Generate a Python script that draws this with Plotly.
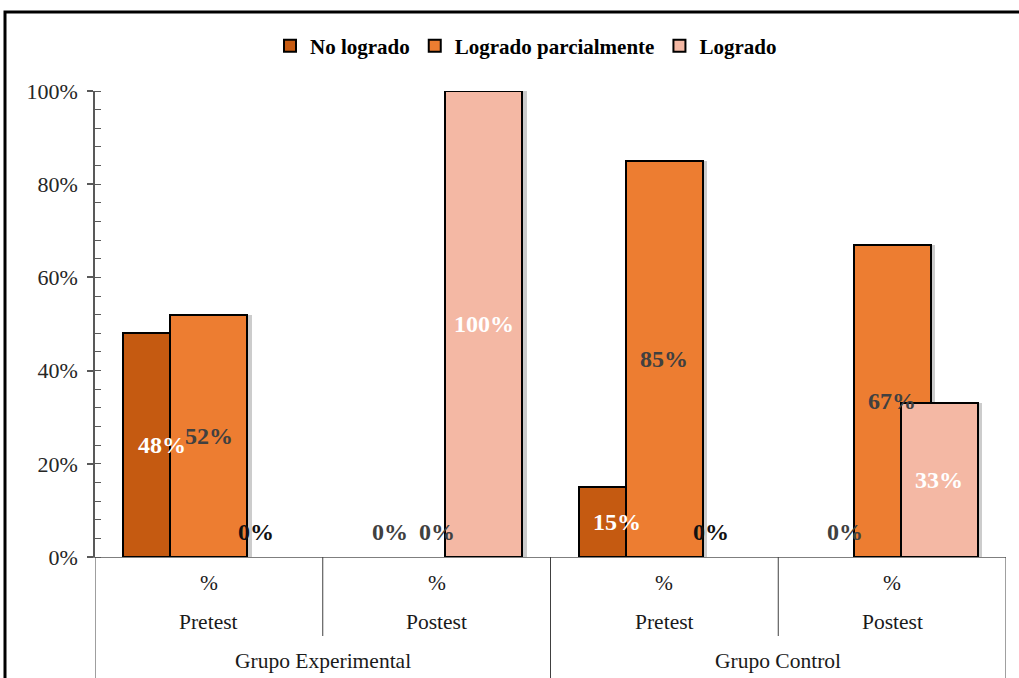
import plotly.graph_objects as go

# ---- data ----
series_names = ["No logrado", "Logrado parcialmente", "Logrado"]
no_logrado = [0.48, 0.00, 0.15, 0.00]
logrado_parcial = [0.52, 0.00, 0.85, 0.67]
logrado = [0.00, 1.00, 0.00, 0.33]
unit_labels = ["%", "%", "%", "%"]
phase_labels = ["Pretest", "Postest", "Pretest", "Postest"]
group_labels = ["Grupo Experimental", "Grupo Control"]
y_ticks = [0, 0.2, 0.4, 0.6, 0.8, 1.0]

series_values = [no_logrado, logrado_parcial, logrado]
colors = ["#C55A11", "#ED7D31", "#F4B8A4"]
label_colors = ["#FFFFFF", "#404040", "#FFFFFF"]
zero_label_colors = ["#404040", "#404040", "#111111"]

W, H = 1019, 678
L, R, T, B = 95, 13, 91, 121
pw, ph = W - L - R, H - T - B

bar_w = 0.338
centers = [-0.206, 0.0, 0.206]
xs = list(range(len(phase_labels)))

FONT = "Liberation Serif, Times New Roman, serif"

fig = go.Figure()
for s, (name, vals) in enumerate(zip(series_names, series_values)):
    yv = [v if v > 0 else None for v in vals]
    # shadow
    fig.add_trace(go.Bar(
        x=xs, y=yv, width=bar_w, offset=centers[s] - bar_w / 2 + 0.02,
        marker=dict(color="rgba(0,0,0,0.2)", line=dict(width=0)),
        showlegend=False, hoverinfo="skip"))
    fig.add_trace(go.Bar(
        x=xs, y=yv, name=name, width=bar_w, offset=centers[s] - bar_w / 2,
        marker=dict(color=colors[s], line=dict(color="#000000", width=2)),
        hovertemplate="%{y:.0%}<extra>" + name + "</extra>"))

annotations = []
for s, vals in enumerate(series_values):
    for i, v in enumerate(vals):
        if v > 0:
            annotations.append(dict(
                x=i + centers[s], y=v / 2, xref="x", yref="y", yanchor="middle",
                text=f"{v:.0%}", showarrow=False,
                font=dict(family=FONT, size=24, color=label_colors[s], weight="bold")))
        else:
            annotations.append(dict(
                x=i + centers[s], y=0, xref="x", yref="y", yanchor="middle", yshift=25,
                text=f"{v:.0%}", showarrow=False,
                font=dict(family=FONT, size=24, color=zero_label_colors[s], weight="bold")))

def py(p):
    return (H - B - p) / ph

def px(p):
    return (p - L) / pw

AX_FONT = dict(family=FONT, size=21.5, color="#1a1a1a")
for i, t in enumerate(unit_labels):
    annotations.append(dict(x=i, y=py(583), xref="x", yref="paper", yanchor="middle",
                            text=t, showarrow=False, font=AX_FONT))
for i, t in enumerate(phase_labels):
    annotations.append(dict(x=i, y=py(622), xref="x", yref="paper", yanchor="middle",
                            text=t, showarrow=False, font=AX_FONT))
for g, t in enumerate(group_labels):
    annotations.append(dict(x=2 * g + 0.5, y=py(661), xref="x", yref="paper", yanchor="middle",
                            text=t, showarrow=False, font=AX_FONT))

shapes = []
for k in range(len(phase_labels) + 1):
    xk = k - 0.5
    y1 = py(690) if k % 2 == 0 else py(636)
    shapes.append(dict(type="line", xref="x", yref="paper", x0=xk, x1=xk, y0=0, y1=y1,
                       line=dict(color="#404040", width=1)))
# outer chart border
shapes.append(dict(type="rect", xref="paper", yref="paper",
                   x0=px(5), x1=px(1030), y0=py(690), y1=py(12),
                   line=dict(color="#000000", width=3), fillcolor="rgba(0,0,0,0)", layer="below"))

fig.update_layout(
    width=W, height=H,
    margin=dict(l=L, r=R, t=T, b=B, pad=0),
    paper_bgcolor="white", plot_bgcolor="white",
    barmode="overlay", bargap=0,
    showlegend=True,
    legend=dict(orientation="h", x=px(526), xanchor="center", y=py(46), yanchor="middle",
                font=dict(family=FONT, size=21, color="#000000", weight="bold"),
                itemsizing="constant", traceorder="normal"),
    xaxis=dict(range=[-0.5, 3.5], showticklabels=False, ticks="", showgrid=False,
               zeroline=False, showline=True, linecolor="#7f7f7f", linewidth=1, fixedrange=True),
    yaxis=dict(range=[0, 1], tickvals=y_ticks, tickformat=".0%", showgrid=False, zeroline=False,
               showline=True, linecolor="#595959", linewidth=1.5,
               ticks="outside", ticklen=6, tickcolor="#595959", tickwidth=1.5,
               minor=dict(ticks="inside", dtick=0.04, ticklen=6, tickcolor="#595959", tickwidth=1),
               tickfont=dict(family=FONT, size=22, color="#262626"), ticklabelstandoff=5),
    annotations=annotations,
    shapes=shapes,
)

fig.write_html("out.html", config={"displayModeBar": False},
               post_script="document.body.style.margin='0px';")
